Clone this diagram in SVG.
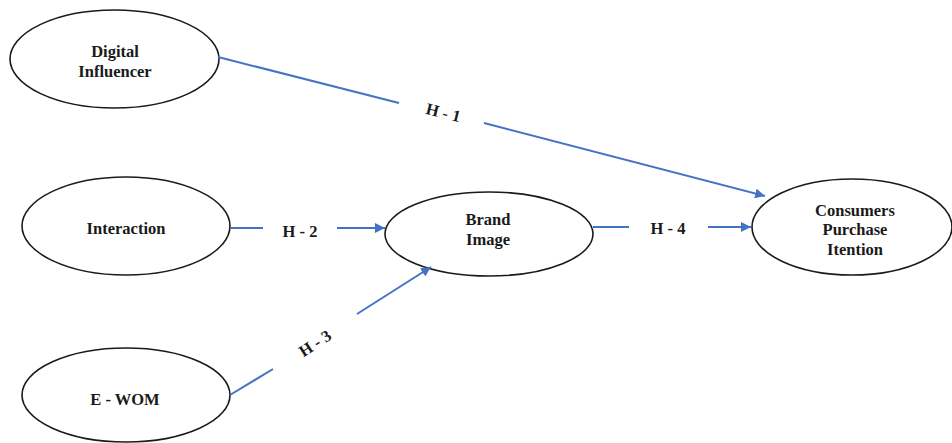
<svg xmlns="http://www.w3.org/2000/svg" width="952" height="443" viewBox="0 0 952 443">
<defs>
<style>
.n{fill:#fff;stroke:#1a1a1a;stroke-width:1.6}
.t{font-family:"Liberation Serif","Times New Roman",serif;font-weight:bold;font-size:16.5px;fill:#1a1a1a;text-anchor:middle}
.c{stroke:#4472c4;stroke-width:2;fill:none}
</style>
<marker id="ah" viewBox="0 0 10 10" refX="10" refY="5" markerWidth="5" markerHeight="5" orient="auto" markerUnits="strokeWidth">
<path d="M0,0 L10,5 L0,10 z" fill="#4472c4"/>
</marker>
</defs>
<rect width="952" height="443" fill="#fff"/>
<g id="digital">
<ellipse class="n" cx="114.5" cy="59" rx="104.5" ry="49"/>
<text class="t" x="115" y="57">Digital</text>
<text class="t" x="115" y="77">Influencer</text>
</g>
<g id="interaction">
<ellipse class="n" cx="126" cy="226" rx="104" ry="49"/>
<text class="t" x="126" y="234">Interaction</text>
</g>
<g id="ewom">
<ellipse class="n" cx="126" cy="395" rx="104" ry="47"/>
<text class="t" x="125" y="405">E - WOM</text>
</g>
<g id="brand">
<ellipse class="n" cx="489" cy="234" rx="104" ry="42"/>
<text class="t" x="488" y="225">Brand</text>
<text class="t" x="488" y="245">Image</text>
</g>
<g id="consumers">
<ellipse class="n" cx="852" cy="227" rx="100" ry="48"/>
<text class="t" x="855" y="216">Consumers</text>
<text class="t" x="855" y="235">Purchase</text>
<text class="t" x="855" y="255">Itention</text>
</g>
<g id="connectors">
<line class="c" x1="218" y1="57" x2="399" y2="103"/>
<line class="c" x1="484" y1="123" x2="765" y2="196" marker-end="url(#ah)"/>
<line class="c" x1="230" y1="228" x2="263" y2="228"/>
<line class="c" x1="337" y1="228" x2="385" y2="228" marker-end="url(#ah)"/>
<line class="c" x1="593" y1="227" x2="629" y2="227"/>
<line class="c" x1="708" y1="227" x2="751" y2="227" marker-end="url(#ah)"/>
<line class="c" x1="230" y1="395" x2="273" y2="369"/>
<line class="c" x1="357" y1="314" x2="431" y2="267" marker-end="url(#ah)"/>
<text class="t" transform="translate(442,118) rotate(14)" x="0" y="0">H - 1</text>
<text class="t" x="300" y="237">H - 2</text>
<text class="t" transform="translate(318,348) rotate(-33)" x="0" y="0">H - 3</text>
<text class="t" x="668" y="234">H - 4</text>
</g>
</svg>
